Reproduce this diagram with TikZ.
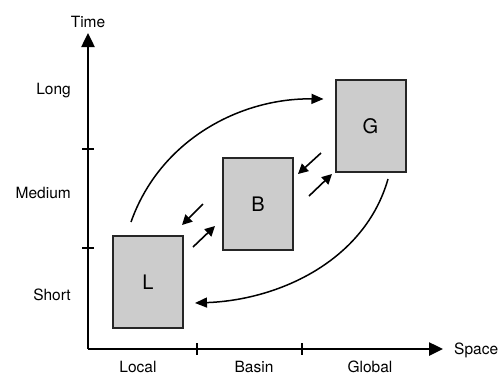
\documentclass[tikz,border=0pt]{standalone}
\usepackage{fontspec}
\setmainfont{TeX Gyre Heros}
\usetikzlibrary{arrows.meta}
\begin{document}
\begin{tikzpicture}[x=1pt,y=-1pt,
  axis/.style={line width=2.5pt,-{Triangle[length=14pt,width=13pt]}},
  tick/.style={line width=1.4pt},
  lab/.style={font=\fontsize{15.5}{18}\selectfont,inner sep=0pt},
  box/.style={draw=black!85,fill=black!20,line width=2pt,minimum width=70pt,minimum height=92pt,inner sep=0pt,font=\fontsize{20}{24}\selectfont},
  flow/.style={line width=1.5pt,-{Triangle[length=12pt,width=10pt]}},
  small/.style={line width=1.6pt,-{Triangle[length=10pt,width=10pt]}}]
\useasboundingbox (0,0) rectangle (503,376);
% axes
\coordinate (O) at (88,349);
\coordinate (Ytop) at (88,33);
\coordinate (Xend) at (443,349);
\draw[axis] (O) -- (Ytop);
\draw[axis] (O) -- (Xend);
\node[lab] (time) at (88,22) {Time};
\node[lab,anchor=west] (space) at (454,350) {Space};
% ticks
\coordinate (ty1a) at (82,149); \coordinate (ty1b) at (94,149);
\coordinate (ty2a) at (82,248); \coordinate (ty2b) at (94,248);
\coordinate (tx1a) at (197,343); \coordinate (tx1b) at (197,355);
\coordinate (tx2a) at (302,343); \coordinate (tx2b) at (302,355);
\draw[tick] (ty1a) -- (ty1b);
\draw[tick] (ty2a) -- (ty2b);
\draw[tick] (tx1a) -- (tx1b);
\draw[tick] (tx2a) -- (tx2b);
% axis labels
\node[lab,anchor=east] (long) at (71,91) {Long};
\node[lab,anchor=east] (medium) at (71,193) {Medium};
\node[lab,anchor=east] (short) at (71,295) {Short};
\node[lab] (local) at (138,367) {Local};
\node[lab] (basin) at (254,367) {Basin};
\node[lab] (global) at (370,367) {Global};
% boxes
\node[box] (L) at (148,282) {L};
\node[box] (B) at (258,204) {B};
\node[box] (G) at (370.5,126) {G};
% big curves
\draw[flow] ([xshift=-17pt,yshift=13pt]L.north) .. controls (160,140) and (240,98) .. ([xshift=-11pt,yshift=27pt]G.west);
\draw[flow] ([xshift=17.5pt,yshift=-6pt]G.south) .. controls (365,260) and (280,300) .. ([xshift=11pt,yshift=-21pt]L.east);
% small arrows
\coordinate (s1) at (193,247); \coordinate (e1) at (215,226);
\coordinate (s2) at (203,204); \coordinate (e2) at (182,225);
\coordinate (s3) at (321,153); \coordinate (e3) at (298,174);
\coordinate (s4) at (309,196); \coordinate (e4) at (332,174);
\draw[small] (s1) -- (e1);
\draw[small] (s2) -- (e2);
\draw[small] (s3) -- (e3);
\draw[small] (s4) -- (e4);
\end{tikzpicture}
\end{document}
